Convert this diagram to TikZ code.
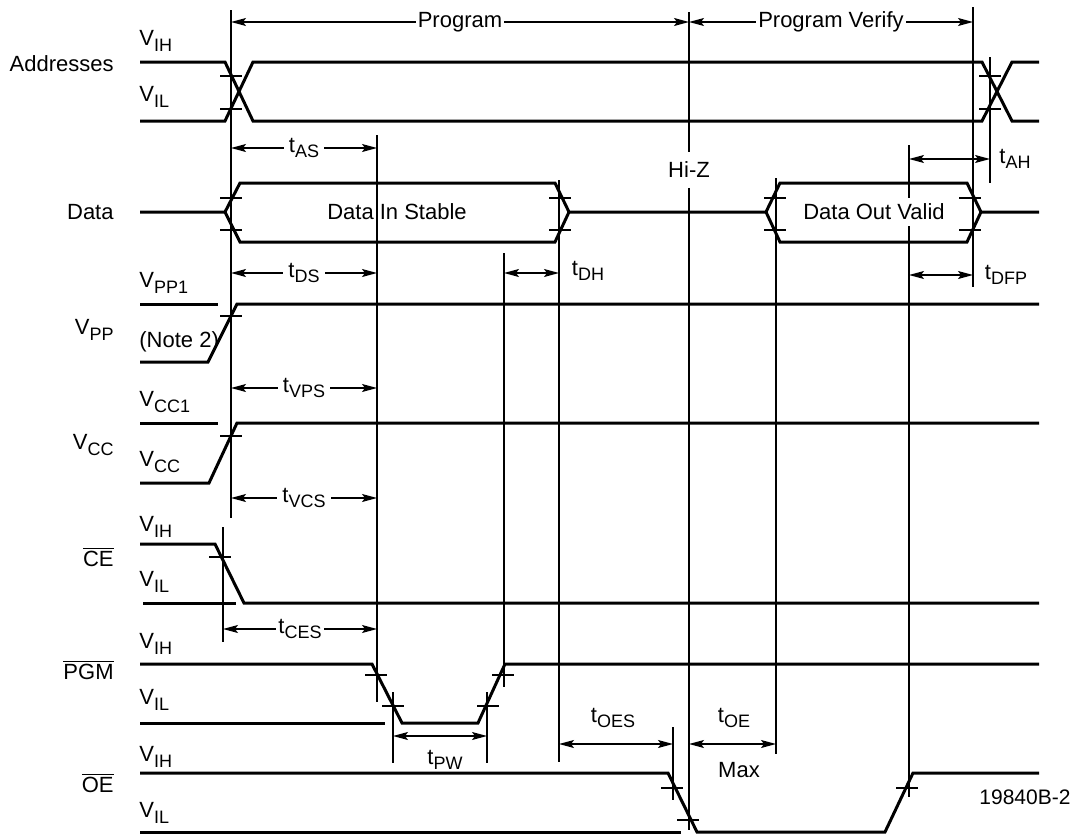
\documentclass[tikz,border=0pt]{standalone}
\usepackage{fontspec}
\setmainfont{Liberation Sans}
\usetikzlibrary{arrows.meta, positioning}
\newcommand{\subtxt}[1]{\raisebox{-2.8pt}{\fontsize{9}{10}\selectfont #1}}
\tikzstyle{wave} = [line width=1.5pt, line join=miter]
\tikzstyle{guide} = [line width=0.6pt]
\tikzstyle{tickmark} = [line width=0.6pt]
\tikzstyle{dimarrow} = [line width=0.6pt, {Stealth[length=7.5pt,width=4pt,inset=1.5pt]}-{Stealth[length=7.5pt,width=4pt,inset=1.5pt]}]
\tikzstyle{dimlabel} = [fill=white, inner sep=2.5pt]
\tikzstyle{lvl} = [anchor=west, inner sep=1pt]
\tikzstyle{signame} = [anchor=east, inner sep=1pt]

\begin{document}
\begin{tikzpicture}[x=0.5pt, y=-0.5pt, font=\fontsize{11}{13}\selectfont]
\useasboundingbox (0,0) rectangle (1072,835);

% Signal names
\node (addr) [signame] at (116,64) {Addresses};
\node (data) [signame] at (116,212) {Data};
\node (vpp) [signame] at (116,330) {V\subtxt{PP}};
\node (vcc) [signame] at (116,445) {V\subtxt{CC}};
\node (ce) [signame] at (116,557) {$\overline{\mbox{CE}}$};
\node (pgm) [signame] at (116,670) {$\overline{\mbox{PGM}}$};
\node (oe) [signame] at (116,783) {$\overline{\mbox{OE}}$};

% Levels
\node (addrhi) [lvl] at (137,41) {V\subtxt{IH}};
\node (addrlo) [lvl] at (137,97) {V\subtxt{IL}};
\node (vpphi) [lvl] at (137,283) {V\subtxt{PP1}};
\node (note) [lvl] at (137,342) {(Note 2)};
\node (vcchi) [lvl] at (137,402) {V\subtxt{CC1}};
\node (vcclo) [lvl] at (137,462) {V\subtxt{CC}};
\node (cehi) [lvl] at (137,527) {V\subtxt{IH}};
\node (celo) [lvl] at (137,582) {V\subtxt{IL}};
\node (pgmhi) [lvl] at (137,644) {V\subtxt{IH}};
\node (pgmlo) [lvl] at (137,700) {V\subtxt{IL}};
\node (oehi) [lvl] at (137,757) {V\subtxt{IH}};
\node (oelo) [lvl] at (137,813) {V\subtxt{IL}};

% Timing guides
\node (hiz) [inner sep=0pt, minimum height=17.5pt] at (689,170) {Hi-Z};
\draw [guide] (689,12) -- (hiz.north);
\draw [guide] (hiz.south) -- (689,830);
\draw [guide] (231,10) -- (231,518);
\draw [guide] (223,527) -- (223,642);
\draw [guide] (377,135) -- (377,702);
\draw [guide] (393,692) -- (393,763);
\draw [guide] (487,692) -- (487,763);
\draw [guide] (504,253) -- (504,687);
\draw [guide] (559,180) -- (559,762);
\draw [guide] (673,727) -- (673,800);
\draw [guide] (776,178) -- (776,754);
\draw [guide] (909,145) -- (909,797);
\draw [guide] (973,7) -- (973,287);
\draw [guide] (990,57) -- (990,183);

% Addresses
\draw [wave] (140,62) -- (225,62) -- (253,121) -- (982,121) -- (1012,62) -- (1039,62);
\draw [wave] (140,121) -- (225,121) -- (253,62) -- (982,62) -- (1012,121) -- (1039,121);

% Data
\draw [wave] (140,212) -- (225,212) -- (240,183) -- (555,183) -- (569,212) -- (766,212) -- (780,183) -- (967,183) -- (981,212) -- (1039,212);
\draw [wave] (225,212) -- (240,242) -- (555,242) -- (569,212);
\draw [wave] (766,212) -- (780,242) -- (967,242) -- (981,212);
\node (din) at (397,212) {Data In Stable};
\node (dout) [fill=white, inner sep=3pt] at (874,212) {Data Out Valid};

% VPP and VCC
\draw [wave] (140,304) -- (218,304);
\draw [wave] (140,362) -- (208,362) -- (237,304) -- (1039,304);
\draw [wave] (140,423) -- (218,423);
\draw [wave] (140,483) -- (209,483) -- (237,423) -- (1039,423);

% CE, PGM, OE
\draw [wave] (140,544) -- (215,544) -- (244,603) -- (1039,603);
\draw [wave] (143,603) -- (236,603);
\draw [wave] (140,664) -- (372,664) -- (402,723) -- (478,723) -- (505,664) -- (1039,664);
\draw [wave] (140,723) -- (385,723);
\draw [wave] (140,773) -- (668,773) -- (697,832) -- (885,832) -- (913,773) -- (1039,773);
\draw [wave] (140,832) -- (681,832);

% Crossing ticks
\foreach \x/\y in {231/76, 231/109, 990/76, 990/109, 231/198, 231/230, 560/198, 560/230,
                   775/198, 775/230, 970/198, 970/230, 231/316, 231/436, 220/557,
                   376/675, 393/706, 488/706, 503/675, 672/788, 688/820, 907/788}
  \draw [tickmark] (\x-11,\y) -- (\x+11,\y);

% Intervals
\draw [dimarrow] (231,22) -- node[dimlabel, inner sep=1pt] (prog) {Program} (689,22);
\draw [dimarrow] (689,22) -- node[dimlabel, inner sep=1pt] (verify) {Program Verify} (973,22);
\draw [dimarrow] (231,148) -- node[dimlabel] (tas) {t\subtxt{AS}} (377,148);
\draw [dimarrow] (231,273) -- node[dimlabel] (tds) {t\subtxt{DS}} (377,273);
\draw [dimarrow] (231,388) -- node[dimlabel] (tvps) {t\subtxt{VPS}} (377,388);
\draw [dimarrow] (231,498) -- node[dimlabel] (tvcs) {t\subtxt{VCS}} (377,498);
\draw [dimarrow] (223,629) -- node[dimlabel, inner sep=1pt] (tces) {t\subtxt{CES}} (377,629);
\draw [dimarrow] (504,273) -- (559,273);
\node (tdh) at (588,271) {t\subtxt{DH}};
\draw [dimarrow] (909,159) -- (990,159);
\node (tah) at (1015,159) {t\subtxt{AH}};
\draw [dimarrow] (909,275) -- (973,275);
\node (tdfp) at (1006,275) {t\subtxt{DFP}};
\draw [dimarrow] (393,736) -- (487,736);
\node (tpw) at (445,760) {t\subtxt{PW}};
\draw [dimarrow] (559,744) -- (673,744);
\node (toes) at (613,718) {t\subtxt{OES}};
\draw [dimarrow] (689,744) -- (776,744);
\node (toe) at (734,718) {t\subtxt{OE}};
\node (max) at (739,770) {Max};

\node (figid) [font=\fontsize{10.5}{12}\selectfont] at (1025,797) {19840B-2};

\end{tikzpicture}
\end{document}
